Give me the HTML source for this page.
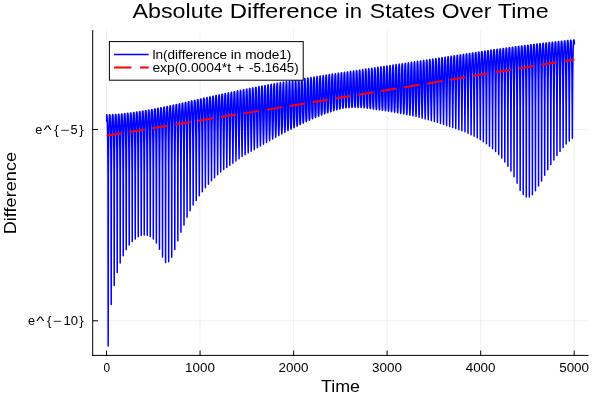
<!DOCTYPE html>
<html><head><meta charset="utf-8"><style>
html,body{margin:0;padding:0;background:#fff;}
svg{display:block;font-family:"Liberation Sans",sans-serif;will-change:transform;}
</style></head><body>
<svg width="600" height="400" viewBox="0 0 600 400">
<rect width="600" height="400" fill="#fff"/>
<!-- grid -->
<g stroke="#000" stroke-opacity="0.09" stroke-width="0.7" fill="none">
<path d="M106.53 30.1V355.4M200.06 30.1V355.4M293.6 30.1V355.4M387.1 30.1V355.4M480.7 30.1V355.4M574.2 30.1V355.4"/>
<path d="M92.7 129.5H588.6M92.7 320.8H588.6"/>
</g>
<!-- series -->
<polyline points="106.62,121.77 106.70,114.77 106.89,114.77 107.07,116.47 107.26,120.52 107.45,126.76 107.64,136.05 107.82,150.40 108.01,176.34 108.20,346.05 108.39,176.34 108.58,150.40 108.76,136.04 108.95,126.75 109.14,120.51 109.33,116.44 109.51,114.74 109.70,114.73 109.89,114.73 110.08,116.42 110.26,120.48 110.45,126.71 110.64,136.00 110.83,150.37 111.02,176.32 111.20,304.40 111.39,176.31 111.58,150.35 111.77,135.97 111.95,126.66 112.14,120.41 112.33,116.34 112.52,114.63 112.71,114.62 112.89,114.61 113.08,116.30 113.27,120.36 113.46,126.60 113.64,135.89 113.83,150.25 114.02,176.19 114.21,285.51 114.39,176.17 114.58,150.21 114.77,135.83 114.96,126.52 115.15,120.25 115.33,116.18 115.52,114.46 115.71,114.45 115.90,114.44 116.08,116.13 116.27,120.18 116.46,126.42 116.65,135.71 116.84,150.08 117.02,175.98 117.21,272.42 117.40,175.95 117.59,150.02 117.77,135.64 117.96,126.32 118.15,120.05 118.34,115.97 118.52,114.25 118.71,114.23 118.90,114.22 119.09,115.91 119.28,119.96 119.46,126.20 119.65,135.49 119.84,149.84 120.03,175.70 120.21,263.06 120.40,175.66 120.59,149.78 120.78,135.39 120.97,126.06 121.15,119.79 121.34,115.71 121.53,113.98 121.72,113.97 121.90,113.95 122.09,115.64 122.28,119.69 122.47,125.92 122.65,135.21 122.84,149.56 123.03,175.35 123.22,255.83 123.41,175.31 123.59,149.48 123.78,135.09 123.97,125.77 124.16,119.49 124.34,115.40 124.53,113.68 124.72,113.66 124.91,113.64 125.10,115.32 125.28,119.37 125.47,125.60 125.66,134.89 125.85,149.22 126.03,174.95 126.22,249.81 126.41,174.90 126.60,149.13 126.78,134.76 126.97,125.43 127.16,119.15 127.35,115.06 127.54,113.33 127.72,113.31 127.91,113.28 128.10,114.97 128.29,119.01 128.47,125.24 128.66,134.52 128.85,148.85 129.04,174.51 129.22,244.99 129.41,174.45 129.60,148.75 129.79,134.38 129.98,125.05 130.16,118.77 130.35,114.67 130.54,112.94 130.73,112.92 130.91,112.89 131.10,114.57 131.29,118.62 131.48,124.85 131.67,134.12 131.85,148.43 132.04,174.03 132.23,241.47 132.42,173.97 132.60,148.32 132.79,133.96 132.98,124.63 133.17,118.35 133.35,114.25 133.54,112.52 133.73,112.49 133.92,112.47 134.11,114.14 134.29,118.19 134.48,124.41 134.67,133.68 134.86,147.99 135.04,173.54 135.23,238.96 135.42,173.48 135.61,147.88 135.80,133.52 135.98,124.20 136.17,117.92 136.36,113.82 136.55,112.09 136.73,112.06 136.92,112.03 137.11,113.71 137.30,117.75 137.48,123.98 137.67,133.25 137.86,147.55 138.05,173.05 138.24,236.76 138.42,172.99 138.61,147.43 138.80,133.08 138.99,123.75 139.17,117.47 139.36,113.37 139.55,111.64 139.74,111.61 139.93,111.58 140.11,113.26 140.30,117.30 140.49,123.52 140.68,132.79 140.86,147.08 141.05,172.56 141.24,235.45 141.43,172.50 141.61,146.96 141.80,132.61 141.99,123.29 142.18,117.00 142.37,112.90 142.55,111.17 142.74,111.14 142.93,111.11 143.12,112.78 143.30,116.82 143.49,123.04 143.68,132.31 143.87,146.60 144.06,172.08 144.24,235.05 144.43,172.02 144.62,146.47 144.81,132.12 144.99,122.79 145.18,116.50 145.37,112.40 145.56,110.67 145.74,110.63 145.93,110.60 146.12,112.27 146.31,116.31 146.50,122.53 146.68,131.80 146.87,146.09 147.06,171.59 147.25,235.35 147.43,171.53 147.62,145.96 147.81,131.60 148.00,122.27 148.19,115.98 148.37,111.88 148.56,110.14 148.75,110.11 148.94,110.07 149.12,111.75 149.31,115.78 149.50,122.00 149.69,131.27 149.87,145.56 150.06,171.10 150.25,236.55 150.44,171.04 150.63,145.43 150.83,131.06 151.02,121.73 151.21,115.44 151.40,111.33 151.59,109.59 151.78,109.55 151.98,109.52 152.17,111.19 152.36,115.22 152.55,121.44 152.74,130.71 152.93,145.01 153.13,170.61 153.32,239.10 153.51,170.55 153.70,144.87 153.89,130.49 154.09,121.15 154.28,114.86 154.47,110.75 154.66,109.01 154.85,108.97 155.04,108.94 155.24,110.61 155.43,114.64 155.62,120.86 155.81,130.12 156.00,144.44 156.19,170.12 156.39,243.04 156.58,170.05 156.77,144.29 156.96,129.90 157.15,120.56 157.35,114.27 157.54,110.16 157.73,108.41 157.92,108.38 158.11,108.34 158.30,110.01 158.50,114.04 158.69,120.25 158.88,129.52 159.07,143.85 159.26,169.61 159.45,249.23 159.65,169.54 159.84,143.69 160.03,129.29 160.22,119.95 160.41,113.65 160.61,109.54 160.80,107.80 160.99,107.76 161.18,107.72 161.37,109.39 161.56,113.42 161.76,119.63 161.95,128.90 162.14,143.23 162.33,169.06 162.52,257.09 162.71,168.99 162.91,143.07 163.10,128.66 163.29,119.32 163.48,113.02 163.67,108.92 163.87,107.17 164.06,107.13 164.25,107.09 164.44,108.76 164.63,112.78 164.82,119.00 165.02,128.26 165.21,142.60 165.40,168.46 165.59,262.56 165.78,168.38 165.97,142.44 166.17,128.02 166.36,118.68 166.55,112.38 166.74,108.27 166.93,106.53 167.12,106.49 167.32,106.45 167.51,108.11 167.70,112.14 167.89,118.35 168.08,127.62 168.28,141.95 168.47,167.81 168.66,261.76 168.85,167.73 169.04,141.79 169.23,127.37 169.43,118.02 169.62,111.73 169.81,107.62 170.00,105.88 170.19,105.83 170.38,105.79 170.58,107.46 170.77,111.48 170.96,117.70 171.15,126.96 171.34,141.29 171.54,167.14 171.73,257.16 171.92,167.05 172.11,141.13 172.30,126.71 172.49,117.36 172.69,111.07 172.88,106.96 173.07,105.21 173.26,105.17 173.45,105.13 173.64,106.79 173.84,110.82 174.03,117.03 174.22,126.30 174.41,140.62 174.60,166.42 174.80,249.48 174.99,166.33 175.18,140.45 175.37,126.04 175.56,116.70 175.75,110.40 175.95,106.29 176.14,104.54 176.33,104.50 176.52,104.46 176.71,106.12 176.90,110.15 177.10,116.36 177.29,125.62 177.48,139.94 177.67,165.65 177.86,240.84 178.06,165.55 178.25,139.76 178.44,125.37 178.63,116.02 178.82,109.72 179.01,105.61 179.21,103.86 179.40,103.82 179.59,103.77 179.78,105.44 179.97,109.46 180.16,115.68 180.36,124.94 180.55,139.23 180.74,164.82 180.93,232.24 181.12,164.71 181.32,139.05 181.51,124.68 181.70,115.33 181.89,109.04 182.08,104.92 182.27,103.18 182.47,103.13 182.66,103.09 182.85,104.75 183.04,108.78 183.23,114.99 183.42,124.24 183.62,138.51 183.81,163.94 184.00,224.95 184.19,163.82 184.38,138.33 184.57,123.98 184.76,114.64 184.96,108.35 185.15,104.23 185.34,102.49 185.53,102.44 185.72,102.40 185.91,104.06 186.10,108.09 186.29,114.29 186.48,123.53 186.67,137.77 186.87,162.94 187.06,217.13 187.25,162.81 187.44,137.58 187.63,123.27 187.82,113.94 188.01,107.65 188.20,103.54 188.39,101.80 188.58,101.75 188.78,101.71 188.97,103.37 189.16,107.39 189.35,113.59 189.54,122.82 189.73,137.00 189.92,161.89 190.11,210.64 190.30,161.76 190.50,136.81 190.69,122.55 190.88,113.24 191.07,106.95 191.26,102.85 191.45,101.10 191.64,101.06 191.83,101.02 192.02,102.67 192.21,106.69 192.41,112.89 192.60,122.10 192.79,136.22 192.98,160.79 193.17,205.00 193.36,160.66 193.55,136.03 193.74,121.82 193.93,112.53 194.12,106.25 194.32,102.15 194.51,100.41 194.70,100.36 194.89,100.32 195.08,101.97 195.27,105.99 195.46,112.18 195.65,121.37 195.84,135.44 196.04,159.72 196.23,200.51 196.42,159.58 196.61,135.24 196.80,121.10 196.99,111.83 197.18,105.55 197.37,101.45 197.56,99.71 197.75,99.67 197.95,99.62 198.14,101.28 198.33,105.29 198.52,111.47 198.71,120.64 198.90,134.63 199.09,158.55 199.28,195.83 199.47,158.39 199.66,134.44 199.86,120.37 200.05,111.12 200.24,104.86 200.43,100.75 200.62,99.02 200.81,98.97 201.00,98.93 201.19,100.58 201.38,104.61 201.58,110.81 201.77,120.00 201.96,133.94 202.15,157.44 202.34,191.73 202.53,157.31 202.72,133.80 202.91,119.82 203.10,110.55 203.29,104.22 203.49,100.08 203.68,98.33 203.87,98.28 204.06,98.25 204.25,99.92 204.44,104.01 204.63,110.32 204.82,119.60 205.01,133.46 205.20,156.45 205.40,187.86 205.59,156.33 205.78,133.38 205.97,119.50 206.16,110.14 206.35,103.66 206.54,99.44 206.73,97.65 206.92,97.59 207.11,97.57 207.31,99.28 207.50,103.47 207.69,109.98 207.88,119.40 208.07,133.18 208.26,155.52 208.45,184.19 208.64,155.41 208.83,133.13 209.03,119.36 209.22,109.85 209.41,103.16 209.60,98.82 209.79,96.98 209.98,96.90 210.17,96.90 210.36,98.67 210.55,102.99 210.74,109.75 210.94,119.35 211.13,133.03 211.32,154.64 211.51,180.74 211.70,154.54 211.89,133.00 212.08,119.36 212.27,109.65 212.46,102.71 212.65,98.21 212.85,96.32 213.04,96.21 213.23,96.24 213.42,98.06 213.61,102.54 213.80,109.57 213.99,119.37 214.18,132.92 214.37,153.80 214.57,177.68 214.76,153.69 214.95,132.91 215.14,119.41 215.33,109.51 215.52,102.27 215.71,97.62 215.90,95.67 216.09,95.53 216.28,95.59 216.48,97.48 216.67,102.12 216.86,109.47 217.05,119.50 217.24,132.91 217.43,152.95 217.62,174.66 217.81,152.84 218.00,132.89 218.19,119.54 218.39,109.41 218.58,101.86 218.77,97.04 218.96,95.02 219.15,94.85 219.34,94.94 219.53,96.89 219.72,101.70 219.91,109.36 220.11,119.61 220.30,132.85 220.49,152.11 220.68,172.01 220.87,152.01 221.06,132.85 221.25,119.66 221.44,109.32 221.63,101.45 221.82,96.46 222.02,94.37 222.21,94.18 222.40,94.29 222.59,96.32 222.78,101.31 222.97,109.29 223.16,119.77 223.35,132.85 223.54,151.26 223.73,169.43 223.93,151.16 224.12,132.80 224.31,119.77 224.50,109.20 224.69,101.03 224.88,95.88 225.07,93.73 225.26,93.51 225.45,93.65 225.65,95.74 225.84,100.86 226.03,109.10 226.22,119.74 226.41,132.67 226.60,150.44 226.79,167.39 226.98,150.34 227.17,132.62 227.36,119.73 227.56,109.00 227.75,100.58 227.94,95.30 228.13,93.09 228.32,92.85 228.51,93.01 228.70,95.15 228.89,100.42 229.08,108.91 229.27,119.73 229.47,132.50 229.66,149.61 229.85,165.35 230.04,149.50 230.23,132.46 230.42,119.73 230.61,108.82 230.80,100.15 230.99,94.72 231.19,92.46 231.38,92.19 231.57,92.38 231.76,94.58 231.95,99.98 232.14,108.74 232.33,119.74 232.52,132.35 232.71,148.76 232.90,163.31 233.10,148.65 233.29,132.33 233.48,119.79 233.67,108.70 233.86,99.74 234.05,94.16 234.24,91.84 234.43,91.54 234.62,91.77 234.81,94.03 235.01,99.61 235.20,108.71 235.39,119.95 235.58,132.34 235.77,147.82 235.96,160.88 236.15,147.70 236.34,132.33 236.53,120.03 236.72,108.71 236.92,99.39 237.11,93.63 237.30,91.23 237.49,90.89 237.68,91.16 237.87,93.49 238.06,99.26 238.25,108.69 238.44,120.14 238.64,132.28 238.83,146.86 239.02,158.64 239.21,146.74 239.40,132.26 239.59,120.19 239.78,108.66 239.97,99.02 240.16,93.09 240.35,90.63 240.55,90.26 240.74,90.55 240.93,92.95 241.12,98.87 241.31,108.61 241.50,120.24 241.69,132.15 241.88,145.91 242.07,156.61 242.26,145.80 242.46,132.10 242.65,120.25 242.84,108.55 243.03,98.62 243.22,92.54 243.41,90.03 243.60,89.63 243.79,89.95 243.98,92.40 244.18,98.46 244.37,108.46 244.56,120.24 244.75,131.93 244.94,144.98 245.13,154.76 245.32,144.86 245.51,131.88 245.70,120.26 245.89,108.40 246.09,98.22 246.28,92.00 246.47,89.43 246.66,89.00 246.85,89.36 247.04,91.87 247.23,98.07 247.42,108.36 247.61,120.31 247.80,131.75 248.00,143.97 248.19,152.75 248.38,143.85 248.57,131.68 248.76,120.29 248.95,108.27 249.14,97.81 249.33,91.46 249.52,88.84 249.72,88.38 249.91,88.77 250.10,91.33 250.29,97.65 250.48,108.15 250.67,120.22 250.86,131.44 251.05,143.04 251.24,151.14 251.43,142.93 251.63,131.34 251.82,120.14 252.01,108.01 252.20,97.36 252.39,90.91 252.58,88.25 252.77,87.77 252.96,88.18 253.15,90.77 253.34,97.18 253.54,107.86 253.73,120.01 253.92,131.05 254.11,142.16 254.30,149.67 254.49,142.03 254.68,130.98 254.87,119.98 255.07,107.75 255.26,96.92 255.45,90.37 255.64,87.67 255.83,87.17 256.02,87.60 256.21,90.24 256.40,96.76 256.60,107.67 256.79,119.95 256.98,130.75 257.17,141.11 257.36,147.83 257.55,140.98 257.74,130.67 257.93,119.93 258.13,107.59 258.32,96.51 258.51,89.85 258.70,87.10 258.89,86.57 259.08,87.03 259.27,89.72 259.47,96.36 259.66,107.50 259.85,119.89 260.04,130.42 260.23,140.03 260.42,146.00 260.61,139.89 260.80,130.32 261.00,119.86 261.19,107.41 261.38,96.10 261.57,89.33 261.76,86.54 261.95,85.98 262.14,86.47 262.33,89.20 262.53,95.95 262.72,107.31 262.91,119.80 263.10,130.04 263.29,138.91 263.48,144.16 263.67,138.77 263.87,129.93 264.06,119.75 264.25,107.20 264.44,95.69 264.63,88.81 264.82,85.99 265.01,85.40 265.20,85.92 265.40,88.68 265.59,95.53 265.78,107.09 265.97,119.65 266.16,129.60 266.35,137.77 266.54,142.39 266.73,137.63 266.93,129.48 267.12,119.58 267.31,106.95 267.50,95.25 267.69,88.30 267.88,85.44 268.07,84.82 268.27,85.37 268.46,88.17 268.65,95.09 268.84,106.81 269.03,119.44 269.22,129.10 269.41,136.63 269.60,140.67 269.80,136.49 269.99,128.97 270.18,119.35 270.37,106.67 270.56,94.81 270.75,87.78 270.94,84.89 271.13,84.25 271.33,84.82 271.52,87.65 271.71,94.64 271.90,106.51 272.09,119.18 272.28,128.56 272.47,135.45 272.67,138.96 272.86,135.30 273.05,128.41 273.24,119.06 273.43,106.35 273.62,94.35 273.81,87.26 274.00,84.35 274.20,83.69 274.39,84.28 274.58,87.13 274.77,94.18 274.96,106.18 275.15,118.86 275.34,127.95 275.53,134.24 275.73,137.26 275.92,134.09 276.11,127.79 276.30,118.72 276.49,105.99 276.68,93.88 276.87,86.74 277.07,83.81 277.26,83.14 277.45,83.75 277.64,86.61 277.83,93.70 278.02,105.80 278.21,118.47 278.40,127.28 278.60,133.01 278.79,135.61 278.98,132.86 279.17,127.10 279.36,118.31 279.55,105.59 279.74,93.39 279.93,86.22 280.13,83.28 280.32,82.59 280.51,83.22 280.70,86.09 280.89,93.20 281.08,105.37 281.27,118.02 281.47,126.54 281.66,131.75 281.85,133.95 282.04,131.59 282.23,126.35 282.42,117.83 282.61,105.14 282.80,92.88 283.00,85.70 283.19,82.76 283.38,82.04 283.57,82.69 283.76,85.57 283.95,92.69 284.14,104.90 284.33,117.49 284.53,125.74 284.72,130.45 284.91,132.30 285.10,130.29 285.29,125.53 285.48,117.27 285.67,104.64 285.87,92.35 286.06,85.18 286.25,82.23 286.44,81.51 286.63,82.17 286.82,85.05 287.01,92.15 287.20,104.37 287.40,116.89 287.59,124.89 287.78,129.19 287.97,130.77 288.16,129.03 288.35,124.66 288.54,116.65 288.73,104.09 288.93,91.81 289.12,84.65 289.31,81.71 289.50,80.98 289.69,81.65 289.88,84.52 290.07,91.60 290.27,103.80 290.46,116.23 290.65,123.98 290.84,127.90 291.03,129.23 291.22,127.74 291.41,123.74 291.60,115.96 291.80,103.50 291.99,91.24 292.18,84.12 292.37,81.19 292.56,80.45 292.75,81.13 292.94,83.98 293.13,91.02 293.33,103.18 293.52,115.49 293.71,122.99 293.90,126.59 294.09,127.70 294.28,126.42 294.47,122.74 294.67,115.19 294.86,102.84 295.05,90.65 295.24,83.58 295.43,80.68 295.62,79.93 295.81,80.61 296.00,83.45 296.20,90.43 296.39,102.50 296.58,114.66 296.77,121.94 296.96,125.23 297.15,126.17 297.34,125.06 297.53,121.66 297.73,114.33 297.92,102.13 298.11,90.04 298.30,83.04 298.49,80.17 298.68,79.42 298.87,80.10 299.07,82.90 299.26,89.81 299.45,101.75 299.64,113.75 299.83,120.80 300.02,123.84 300.21,124.64 300.40,123.67 300.60,120.51 300.79,113.38 300.98,101.36 301.17,89.40 301.36,82.49 301.55,79.65 301.74,78.91 301.93,79.59 302.13,82.35 302.32,89.16 302.51,100.95 302.70,112.74 302.89,119.58 303.08,122.42 303.27,123.11 303.47,122.24 303.66,119.27 303.85,112.34 304.04,100.51 304.23,88.74 304.42,81.94 304.61,79.14 304.80,78.41 305.00,79.08 305.19,81.80 305.38,88.48 305.57,100.07 305.76,111.65 305.95,118.31 306.14,121.00 306.33,121.64 306.53,120.83 306.72,118.00 306.91,111.24 307.10,99.63 307.29,88.06 307.48,81.38 307.67,78.63 307.87,77.91 308.06,78.57 308.25,81.24 308.44,87.80 308.63,99.18 308.82,110.53 309.01,117.03 309.20,119.63 309.40,120.23 309.59,119.46 309.78,116.70 309.97,110.09 310.16,98.71 310.35,87.36 310.54,80.81 310.73,78.13 310.93,77.42 311.12,78.06 311.31,80.67 311.50,87.10 311.69,98.23 311.88,109.34 312.07,115.70 312.27,118.24 312.46,118.82 312.65,118.06 312.84,115.36 313.03,108.89 313.22,97.76 313.41,86.66 313.60,80.25 313.80,77.62 313.99,76.93 314.18,77.56 314.37,80.11 314.56,86.39 314.75,97.28 314.94,108.15 315.13,114.37 315.33,116.86 315.52,117.44 315.71,116.71 315.90,114.08 316.09,107.75 316.28,96.85 316.47,85.97 316.67,79.70 316.86,77.12 317.05,76.44 317.24,77.06 317.43,79.56 317.62,85.73 317.81,96.42 318.00,107.09 318.20,113.20 318.39,115.65 318.58,116.22 318.77,115.50 318.96,112.91 319.15,106.70 319.34,96.00 319.53,85.32 319.73,79.16 319.92,76.63 320.11,75.96 320.30,76.57 320.49,79.02 320.68,85.07 320.87,95.57 321.07,106.04 321.26,112.04 321.45,114.44 321.64,114.99 321.83,114.29 322.02,111.75 322.21,105.65 322.40,95.14 322.60,84.67 322.79,78.62 322.98,76.14 323.17,75.48 323.36,76.07 323.55,78.49 323.74,84.42 323.93,94.72 324.13,104.99 324.32,110.87 324.51,113.23 324.70,113.77 324.89,113.07 325.08,110.59 325.27,104.61 325.46,94.31 325.65,84.03 325.84,78.09 326.03,75.65 326.22,75.01 326.41,75.59 326.60,77.96 326.79,83.80 326.98,93.93 327.17,104.05 327.36,109.84 327.55,112.17 327.74,112.72 327.93,112.04 328.12,109.60 328.31,103.71 328.50,93.56 328.69,83.43 328.88,77.58 329.07,75.17 329.26,74.54 329.45,75.11 329.64,77.45 329.83,83.20 330.02,93.18 330.21,103.14 330.40,108.85 330.59,111.15 330.78,111.69 330.97,111.02 331.16,108.61 331.35,102.81 331.54,92.81 331.73,82.83 331.92,77.07 332.11,74.70 332.30,74.07 332.49,74.64 332.68,76.94 332.87,82.60 333.06,92.43 333.25,102.24 333.44,107.87 333.63,110.12 333.82,110.65 334.01,110.00 334.20,107.62 334.39,101.90 334.58,92.06 334.77,82.23 334.96,76.56 335.15,74.22 335.34,73.61 335.53,74.17 335.72,76.43 335.91,82.03 336.10,91.74 336.29,101.44 336.48,107.01 336.67,109.26 336.86,109.80 337.05,109.17 337.24,106.84 337.43,101.19 337.62,91.44 337.81,81.70 338.00,76.07 338.19,73.76 338.38,73.14 338.57,73.70 338.76,75.95 338.95,81.50 339.14,91.14 339.33,100.77 339.52,106.31 339.71,108.54 339.90,109.08 340.09,108.45 340.28,106.13 340.47,100.52 340.66,90.85 340.85,81.18 341.04,75.59 341.23,73.29 341.42,72.68 341.61,73.24 341.80,75.47 341.99,80.98 342.17,90.55 342.36,100.11 342.55,105.60 342.74,107.81 342.93,108.35 343.12,107.72 343.31,105.42 343.50,99.86 343.69,90.25 343.88,80.66 344.07,75.11 344.26,72.83 344.45,72.23 344.64,72.77 344.83,74.99 345.02,80.46 345.21,89.97 345.40,99.50 345.59,104.99 345.78,107.23 345.97,107.79 346.16,107.20 346.35,104.94 346.54,99.41 346.73,89.82 346.92,80.22 347.11,74.66 347.30,72.38 347.49,71.77 347.68,72.32 347.87,74.56 348.06,80.07 348.25,89.66 348.44,99.25 348.63,104.78 348.82,107.04 349.01,107.61 349.20,107.02 349.39,104.73 349.58,99.16 349.77,89.50 349.96,79.82 350.15,74.23 350.34,71.93 350.53,71.32 350.72,71.87 350.91,74.12 351.10,79.68 351.29,89.34 351.48,99.01 351.67,104.58 351.86,106.85 352.05,107.43 352.24,106.83 352.43,104.53 352.62,98.91 352.81,89.18 353.00,79.43 353.19,73.80 353.38,71.48 353.57,70.86 353.76,71.42 353.95,73.69 354.14,79.29 354.33,89.02 354.52,98.76 354.71,104.38 354.90,106.67 355.09,107.26 355.28,106.68 355.47,104.38 355.66,98.73 355.85,88.91 356.04,79.07 356.23,73.38 356.42,71.03 356.61,70.41 356.80,70.98 356.99,73.28 357.18,78.96 357.37,88.84 357.56,98.75 357.75,104.48 357.94,106.83 358.13,107.44 358.32,106.85 358.51,104.51 358.70,98.76 358.89,88.78 359.08,78.77 359.27,72.98 359.46,70.59 359.65,69.96 359.84,70.53 360.03,72.88 360.22,78.66 360.41,88.71 360.60,98.79 360.79,104.61 360.98,107.00 361.17,107.62 361.36,107.02 361.55,104.64 361.74,98.80 361.93,88.64 362.12,78.47 362.31,72.58 362.50,70.15 362.69,69.51 362.88,70.09 363.07,72.48 363.26,78.35 363.45,88.58 363.64,98.82 363.83,104.74 364.02,107.17 364.21,107.80 364.40,107.19 364.59,104.78 364.78,98.83 364.97,88.51 365.16,78.17 365.35,72.18 365.54,69.71 365.73,69.06 365.92,69.65 366.11,72.08 366.30,78.07 366.49,88.50 366.68,98.96 366.87,105.01 367.06,107.51 367.25,108.16 367.44,107.56 367.63,105.10 367.82,99.04 368.01,88.49 368.20,77.92 368.39,71.80 368.58,69.27 368.77,68.60 368.96,69.22 369.15,71.70 369.34,77.83 369.53,88.49 369.72,99.18 369.91,105.37 370.10,107.92 370.29,108.59 370.48,107.97 370.67,105.46 370.86,99.26 371.05,88.48 371.24,77.67 371.43,71.41 371.62,68.84 371.81,68.15 372.00,68.78 372.19,71.32 372.38,77.58 372.57,88.48 372.76,99.40 372.95,105.72 373.14,108.33 373.33,109.02 373.52,108.38 373.71,105.81 373.90,99.48 374.09,88.47 374.28,77.43 374.47,71.03 374.66,68.40 374.85,67.70 375.04,68.35 375.23,70.94 375.42,77.33 375.61,88.46 375.80,99.62 375.99,106.08 376.18,108.74 376.37,109.44 376.56,108.79 376.75,106.17 376.94,99.70 377.12,88.46 377.31,77.18 377.50,70.65 377.69,67.96 377.88,67.25 378.07,67.91 378.26,70.56 378.45,77.09 378.64,88.45 378.83,99.84 379.02,106.43 379.21,109.15 379.40,109.87 379.59,109.20 379.78,106.51 379.97,99.91 380.16,88.43 380.35,76.92 380.54,70.27 380.73,67.53 380.92,66.80 381.11,67.47 381.30,70.17 381.49,76.82 381.68,88.39 381.87,100.00 382.06,106.73 382.25,109.54 382.44,110.29 382.63,109.58 382.82,106.80 383.01,100.04 383.20,88.35 383.39,76.64 383.58,69.87 383.77,67.08 383.96,66.35 384.15,67.03 384.34,69.77 384.53,76.53 384.72,88.28 384.91,100.08 385.10,106.97 385.29,109.91 385.48,110.73 385.67,109.96 385.86,107.03 386.05,100.10 386.24,88.21 386.43,76.34 386.62,69.47 386.81,66.64 387.00,65.90 387.19,66.58 387.38,69.36 387.57,76.22 387.76,88.13 387.95,100.11 388.14,107.18 388.33,110.29 388.52,111.21 388.71,110.34 388.90,107.22 389.09,100.10 389.28,88.03 389.47,76.02 389.66,69.05 389.85,66.19 390.04,65.45 390.23,66.13 390.42,68.95 390.61,75.89 390.80,87.92 390.99,100.06 391.18,107.32 391.37,110.65 391.56,111.70 391.75,110.70 391.94,107.35 392.13,100.02 392.32,87.79 392.51,75.67 392.70,68.63 392.89,65.73 393.08,64.99 393.27,65.68 393.46,68.52 393.65,75.53 393.84,87.65 394.03,99.92 394.22,107.39 394.41,110.98 394.60,112.19 394.79,111.02 394.98,107.40 395.17,99.85 395.36,87.49 395.56,75.29 395.75,68.19 395.94,65.28 396.13,64.54 396.32,65.22 396.51,68.08 396.70,75.14 396.89,87.33 397.09,99.73 397.28,107.43 397.47,111.36 397.66,112.78 397.85,111.40 398.04,107.43 398.23,99.63 398.42,87.15 398.61,74.89 398.81,67.74 399.00,64.81 399.19,64.08 399.38,64.75 399.57,67.63 399.76,74.73 399.95,86.95 400.14,99.45 400.34,107.40 400.53,111.71 400.72,113.39 400.91,111.75 401.10,107.38 401.29,99.32 401.48,86.74 401.67,74.45 401.86,67.28 402.06,64.34 402.25,63.62 402.44,64.28 402.63,67.17 402.82,74.28 403.01,86.51 403.20,99.08 403.39,107.29 403.58,112.03 403.78,114.01 403.97,112.07 404.16,107.25 404.35,98.92 404.54,86.26 404.73,73.99 404.92,66.82 405.11,63.87 405.31,63.16 405.50,63.81 405.69,66.70 405.88,73.81 406.07,86.01 406.26,98.63 406.45,107.10 406.64,112.30 406.83,114.62 407.03,112.34 407.22,107.05 407.41,98.45 407.60,85.74 407.79,73.51 407.98,66.34 408.17,63.40 408.36,62.70 408.56,63.34 408.75,66.21 408.94,73.32 409.13,85.45 409.32,98.11 409.51,106.84 409.70,112.54 409.89,115.23 410.08,112.57 410.28,106.77 410.47,97.89 410.66,85.16 410.85,73.00 411.04,65.85 411.23,62.92 411.42,62.24 411.61,62.86 411.81,65.72 412.00,72.80 412.19,84.85 412.38,97.51 412.57,106.51 412.76,112.74 412.95,115.84 413.14,112.76 413.33,106.42 413.53,97.27 413.72,84.53 413.91,72.46 414.10,65.35 414.29,62.44 414.48,61.78 414.67,62.38 414.86,65.23 415.06,72.26 415.25,84.20 415.44,96.84 415.63,106.12 415.82,112.93 416.01,116.51 416.20,112.96 416.39,106.01 416.58,96.56 416.78,83.84 416.97,71.90 417.16,64.84 417.35,61.95 417.54,61.32 417.73,61.89 417.92,64.71 418.11,71.68 418.30,83.46 418.50,96.07 418.69,105.65 418.88,113.14 419.07,117.31 419.26,113.17 419.45,105.52 419.64,95.76 419.83,83.08 420.03,71.30 420.22,64.32 420.41,61.46 420.60,60.86 420.79,61.40 420.98,64.19 421.17,71.07 421.36,82.68 421.55,95.23 421.75,105.11 421.94,113.31 422.13,118.10 422.32,113.33 422.51,104.96 422.70,94.90 422.89,82.27 423.08,70.69 423.28,63.80 423.47,60.97 423.66,60.39 423.85,60.91 424.04,63.66 424.23,70.45 424.42,81.86 424.61,94.32 424.80,104.50 425.00,113.42 425.19,118.90 425.38,113.44 425.57,104.33 425.76,93.97 425.95,81.43 426.14,70.05 426.33,63.26 426.53,60.48 426.72,59.93 426.91,60.42 427.10,63.13 427.29,69.81 427.48,80.98 427.67,93.35 427.86,103.82 428.05,113.52 428.25,119.76 428.44,113.53 428.63,103.64 428.82,92.96 429.01,80.53 429.20,69.39 429.39,62.72 429.58,59.98 429.77,59.46 429.97,59.92 430.16,62.58 430.35,69.14 430.54,80.08 430.73,92.32 430.92,103.07 431.11,113.56 431.30,120.62 431.50,113.57 431.69,102.88 431.88,91.92 432.07,79.61 432.26,68.72 432.45,62.17 432.64,59.49 432.83,59.00 433.02,59.42 433.22,62.04 433.41,68.47 433.60,79.14 433.79,91.25 433.98,102.28 434.17,113.56 434.36,121.47 434.55,113.56 434.75,102.07 434.94,90.84 435.13,78.67 435.32,68.04 435.51,61.62 435.70,58.99 435.89,58.53 436.08,58.93 436.27,61.48 436.47,67.77 436.66,78.17 436.85,90.11 437.04,101.42 437.23,113.54 437.42,122.42 437.61,113.53 437.80,101.19 438.00,89.67 438.19,77.66 438.38,67.33 438.57,61.06 438.76,58.49 438.95,58.07 439.14,58.43 439.33,60.92 439.52,67.06 439.72,77.15 439.91,88.93 440.10,100.50 440.29,113.48 440.48,123.40 440.67,113.47 440.86,100.27 441.05,88.48 441.25,76.65 441.44,66.61 441.63,60.50 441.82,57.99 442.01,57.60 442.20,57.93 442.39,60.36 442.58,66.34 442.77,76.14 442.97,87.73 443.16,99.55 443.35,113.37 443.54,124.38 443.73,113.35 443.92,99.31 444.11,87.28 444.30,75.63 444.49,65.89 444.69,59.94 444.88,57.49 445.07,57.13 445.26,57.43 445.45,59.80 445.64,65.62 445.83,75.11 446.02,86.51 446.22,98.57 446.41,113.23 446.60,125.39 446.79,113.21 446.98,98.32 447.17,86.05 447.36,74.59 447.55,65.17 447.74,59.38 447.94,56.99 448.13,56.67 448.32,56.93 448.51,59.24 448.70,64.90 448.89,74.07 449.08,85.28 449.27,97.56 449.47,113.05 449.66,126.43 449.85,113.02 450.04,97.31 450.23,84.82 450.42,73.56 450.61,64.44 450.80,58.82 450.99,56.49 451.19,56.20 451.38,56.43 451.57,58.68 451.76,64.17 451.95,73.05 452.14,84.06 452.33,96.55 452.52,112.83 452.72,127.47 452.91,112.80 453.10,96.29 453.29,83.60 453.48,72.54 453.67,63.73 453.86,58.26 454.05,56.00 454.24,55.74 454.44,55.94 454.63,58.12 454.82,63.46 455.01,72.04 455.20,82.85 455.39,95.53 455.58,112.58 455.77,128.53 455.97,112.55 456.16,95.27 456.35,82.40 456.54,71.53 456.73,63.01 456.92,57.70 457.11,55.50 457.30,55.27 457.49,55.44 457.69,57.56 457.88,62.75 458.07,71.03 458.26,81.65 458.45,94.50 458.64,112.31 458.83,129.63 459.02,112.28 459.21,94.25 459.41,81.20 459.60,70.54 459.79,62.31 459.98,57.15 460.17,55.01 460.36,54.81 460.55,54.95 460.74,57.01 460.94,62.04 461.13,70.05 461.32,80.48 461.51,93.49 461.70,112.02 461.89,130.73 462.08,111.98 462.27,93.24 462.46,80.05 462.66,69.57 462.85,61.61 463.04,56.60 463.23,54.52 463.42,54.34 463.61,54.46 463.80,56.47 463.99,61.36 464.19,69.10 464.38,79.35 464.57,92.50 464.76,111.70 464.95,131.83 465.14,111.66 465.33,92.24 465.53,78.91 465.72,68.61 465.91,60.92 466.10,56.06 466.29,54.04 466.48,53.88 466.68,53.97 466.87,55.92 467.06,60.66 467.25,68.12 467.44,78.16 467.63,91.45 467.83,111.39 468.02,133.26 468.21,111.35 468.40,91.19 468.59,77.72 468.78,67.63 468.98,60.22 469.17,55.51 469.36,53.55 469.55,53.42 469.74,53.49 469.93,55.37 470.13,59.97 470.32,67.16 470.51,77.02 470.70,90.44 470.89,111.06 471.08,134.70 471.28,111.02 471.47,90.19 471.66,76.59 471.85,66.69 472.04,59.54 472.24,54.97 472.43,53.06 472.62,52.96 472.81,53.00 473.00,54.84 473.19,59.29 473.39,66.22 473.58,75.90 473.77,89.44 473.96,110.75 474.15,136.32 474.34,110.70 474.54,89.21 474.73,75.52 474.92,65.79 475.11,58.88 475.30,54.44 475.49,52.58 475.69,52.50 475.88,52.52 476.07,54.31 476.26,58.65 476.45,65.38 476.64,74.91 476.84,88.56 477.03,110.42 477.22,137.77 477.41,110.38 477.60,88.34 477.80,74.55 477.99,64.97 478.18,58.25 478.37,53.92 478.56,52.11 478.75,52.04 478.95,52.05 479.14,53.79 479.33,58.02 479.52,64.54 479.71,73.93 479.90,87.67 480.10,110.13 480.29,139.77 480.48,110.10 480.67,87.46 480.86,73.58 481.05,64.15 481.25,57.64 481.44,53.41 481.63,51.64 481.82,51.59 482.01,51.58 482.20,53.29 482.40,57.42 482.59,63.78 482.78,73.05 482.97,86.88 483.16,109.88 483.35,141.82 483.55,109.85 483.74,86.71 483.93,72.76 484.12,63.44 484.31,57.07 484.51,52.92 484.70,51.17 484.89,51.14 485.08,51.12 485.27,52.80 485.46,56.87 485.66,63.12 485.85,72.32 486.04,86.23 486.23,109.66 486.42,143.87 486.61,109.64 486.81,86.09 487.00,72.08 487.19,62.83 487.38,56.54 487.57,52.44 487.76,50.72 487.96,50.69 488.15,50.66 488.34,52.33 488.53,56.36 488.72,62.56 488.91,71.73 489.11,85.71 489.30,109.53 489.49,146.32 489.68,109.52 489.87,85.61 490.07,71.56 490.26,62.32 490.45,56.08 490.64,51.99 490.83,50.27 491.02,50.24 491.22,50.21 491.41,51.88 491.60,55.91 491.79,62.11 491.98,71.30 492.17,85.34 492.37,109.46 492.56,148.79 492.75,109.45 492.94,85.25 493.13,71.14 493.32,61.89 493.52,55.64 493.71,51.55 493.90,49.83 494.09,49.80 494.28,49.77 494.47,51.44 494.67,55.47 494.86,61.68 495.05,70.89 495.24,84.98 495.43,109.37 495.62,151.48 495.82,109.36 496.01,84.89 496.20,70.73 496.39,61.46 496.58,55.20 496.78,51.11 496.97,49.38 497.16,49.36 497.35,49.33 497.54,51.00 497.73,55.04 497.93,61.25 498.12,70.47 498.31,84.62 498.50,109.26 498.69,154.58 498.88,109.25 499.08,84.53 499.27,70.32 499.46,61.03 499.65,54.77 499.84,50.68 500.03,48.95 500.23,48.92 500.42,48.89 500.61,50.57 500.80,54.61 500.99,60.82 501.18,70.06 501.38,84.25 501.57,109.14 501.76,158.08 501.95,109.12 502.14,84.16 502.34,69.91 502.53,60.61 502.72,54.34 502.91,50.24 503.10,48.51 503.29,48.49 503.49,48.46 503.68,50.14 503.87,54.18 504.06,60.40 504.25,69.65 504.44,83.88 504.64,108.98 504.83,161.88 505.02,108.96 505.21,83.78 505.40,69.49 505.59,60.19 505.79,53.91 505.98,49.82 506.17,48.09 506.36,48.06 506.55,48.03 506.74,49.71 506.94,53.75 507.13,59.97 507.32,69.24 507.51,83.50 507.70,108.80 507.89,166.36 508.09,108.78 508.28,83.40 508.47,69.08 508.66,59.76 508.85,53.49 509.05,49.39 509.24,47.66 509.43,47.63 509.62,47.61 509.81,49.29 510.00,53.33 510.20,59.56 510.39,68.82 510.58,83.11 510.77,108.57 510.96,170.93 511.15,108.55 511.35,83.02 511.54,68.67 511.73,59.35 511.92,53.07 512.11,48.97 512.30,47.24 512.50,47.21 512.69,47.19 512.88,48.87 513.07,52.91 513.26,59.14 513.45,68.41 513.65,82.73 513.84,108.33 514.03,176.75 514.22,108.30 514.41,82.63 514.61,68.26 514.80,58.93 514.99,52.65 515.18,48.55 515.37,46.82 515.56,46.80 515.76,46.77 515.95,48.45 516.14,52.50 516.33,58.72 516.52,68.00 516.71,82.33 516.91,108.05 517.10,183.19 517.29,108.02 517.48,82.23 517.67,67.85 517.86,58.52 518.06,52.24 518.25,48.14 518.44,46.41 518.63,46.39 518.82,46.36 519.01,48.04 519.21,52.08 519.40,58.31 519.59,67.59 519.78,81.94 519.97,107.74 520.16,190.57 520.36,107.70 520.55,81.84 520.74,67.44 520.93,58.11 521.12,51.83 521.32,47.74 521.51,46.01 521.70,45.98 521.89,45.96 522.08,47.64 522.27,51.68 522.47,57.91 522.66,67.19 522.85,81.53 523.04,107.38 523.23,194.58 523.42,107.33 523.62,81.43 523.81,67.04 524.00,57.71 524.19,51.43 524.38,47.33 524.57,45.60 524.77,45.58 524.96,45.55 525.15,47.23 525.34,51.28 525.53,57.51 525.72,66.79 525.92,81.14 526.11,106.99 526.30,196.95 526.49,106.95 526.68,81.04 526.87,66.64 527.06,57.31 527.25,51.03 527.44,46.94 527.63,45.21 527.82,45.18 528.02,45.16 528.21,46.84 528.40,50.88 528.59,57.11 528.78,66.40 528.97,80.74 529.16,106.61 529.35,196.92 529.54,106.56 529.73,80.65 529.92,66.25 530.11,56.92 530.30,50.64 530.49,46.55 530.68,44.82 530.88,44.80 531.07,44.77 531.26,46.45 531.45,50.50 531.64,56.73 531.83,66.01 532.02,80.36 532.21,106.21 532.40,194.82 532.59,106.16 532.78,80.26 532.98,65.87 533.17,56.54 533.36,50.26 533.55,46.17 533.74,44.44 533.94,44.41 534.13,44.39 534.32,46.07 534.51,50.11 534.70,56.34 534.90,65.63 535.09,79.97 535.28,105.80 535.47,190.69 535.66,105.75 535.86,79.88 536.05,65.49 536.24,56.16 536.43,49.88 536.62,45.79 536.82,44.06 537.01,44.03 537.20,44.01 537.39,45.69 537.58,49.74 537.77,55.97 537.97,65.25 538.16,79.59 538.35,105.39 538.54,186.04 538.73,105.33 538.93,79.50 539.12,65.11 539.31,55.78 539.50,49.50 539.69,45.41 539.89,43.68 540.08,43.66 540.27,43.64 540.46,45.32 540.65,49.36 540.85,55.60 541.04,64.88 541.23,79.21 541.42,104.96 541.61,181.09 541.81,104.90 542.00,79.12 542.19,64.74 542.38,55.41 542.57,49.13 542.77,45.04 542.96,43.31 543.15,43.29 543.34,43.27 543.53,44.95 543.73,49.00 543.92,55.23 544.11,64.51 544.30,78.84 544.49,104.50 544.69,175.14 544.88,104.44 545.07,78.74 545.26,64.37 545.45,55.05 545.65,48.77 545.84,44.68 546.03,42.95 546.22,42.93 546.41,42.91 546.61,44.59 546.80,48.64 546.99,54.87 547.18,64.15 547.37,78.46 547.57,104.02 547.76,169.65 547.95,103.96 548.14,78.36 548.33,64.01 548.52,54.69 548.72,48.41 548.91,44.32 549.10,42.59 549.29,42.57 549.48,42.55 549.68,44.23 549.87,48.28 550.06,54.51 550.25,63.78 550.44,78.08 550.64,103.52 550.83,164.59 551.02,103.46 551.21,77.98 551.40,63.65 551.60,54.33 551.79,48.06 551.98,43.97 552.17,42.24 552.36,42.22 552.56,42.20 552.75,43.88 552.94,47.93 553.13,54.16 553.32,63.43 553.52,77.70 553.71,103.00 553.90,159.92 554.09,102.93 554.28,77.60 554.48,63.29 554.67,53.99 554.86,47.71 555.05,43.62 555.24,41.90 555.44,41.88 555.63,41.86 555.82,43.54 556.01,47.58 556.20,53.81 556.40,63.07 556.59,77.31 556.78,102.45 556.97,155.49 557.16,102.38 557.36,77.22 557.55,62.94 557.74,53.64 557.93,47.37 558.12,43.28 558.32,41.56 558.51,41.54 558.70,41.52 558.89,43.20 559.08,47.24 559.27,53.47 559.47,62.72 559.66,76.93 559.85,101.88 560.04,151.39 560.23,101.81 560.43,76.83 560.62,62.59 560.81,53.30 561.00,47.03 561.19,42.95 561.39,41.23 561.58,41.21 561.77,41.19 561.96,42.86 562.15,46.91 562.35,53.13 562.54,62.37 562.73,76.54 562.92,101.28 563.11,147.46 563.31,101.21 563.50,76.45 563.69,62.24 563.88,52.96 564.07,46.70 564.27,42.62 564.46,40.90 564.65,40.88 564.84,40.86 565.03,42.54 565.23,46.58 565.42,52.80 565.61,62.02 565.80,76.16 565.99,100.68 566.19,144.06 566.38,100.61 566.57,76.06 566.76,61.90 566.95,52.63 567.15,46.38 567.34,42.29 567.53,40.58 567.72,40.56 567.91,40.54 568.11,42.21 568.30,46.26 568.49,52.47 568.68,61.68 568.87,75.77 569.07,100.08 569.26,141.02 569.45,100.01 569.64,75.68 569.83,61.56 570.02,52.30 570.22,46.06 570.41,41.98 570.60,40.26 570.79,40.24 570.98,40.22 571.18,41.90 571.37,45.94 571.56,52.14 571.75,61.34 571.94,75.40 572.14,99.49 572.33,138.31 572.52,99.42 572.71,75.30 572.90,61.22 573.10,51.98 573.29,45.74 573.48,41.66 573.67,39.95 573.86,39.93 574.06,39.91 574.25,41.58 574.42,44.60" fill="none" stroke="#0000ff" stroke-width="1.5" stroke-linejoin="round" stroke-linecap="butt"/>
<line x1="106.53" y1="135.8" x2="574.4" y2="59.4" stroke="#ff0000" stroke-width="2" stroke-dasharray="15.5 7.7"/>
<!-- axes -->
<g stroke="#000" stroke-width="1" fill="none">
<path d="M92.7 30.1V355.9M92.2 355.4H588.6"/>
<path d="M106.53 355.4v-4.8M200.06 355.4v-4.8M293.6 355.4v-4.8M387.1 355.4v-4.8M480.7 355.4v-4.8M574.2 355.4v-4.8"/>
<path d="M92.7 129.5h5.3M92.7 320.8h5.3"/>
</g>
<!-- tick labels -->
<g font-size="11.9" fill="#000" text-anchor="middle">
<text x="106.8" y="372.1">0</text>
<text x="200.0" y="372.1" textLength="29.8" lengthAdjust="spacingAndGlyphs">1000</text>
<text x="293.5" y="372.1" textLength="29.8" lengthAdjust="spacingAndGlyphs">2000</text>
<text x="387.0" y="372.1" textLength="29.8" lengthAdjust="spacingAndGlyphs">3000</text>
<text x="480.6" y="372.1" textLength="29.8" lengthAdjust="spacingAndGlyphs">4000</text>
<text x="574.1" y="372.1" textLength="29.8" lengthAdjust="spacingAndGlyphs">5000</text>
</g>
<g font-size="11.9" fill="#000" text-anchor="middle">
<text x="38.93" y="133.8" textLength="7.1" lengthAdjust="spacingAndGlyphs">e</text>
<text x="47.73" y="133.8" textLength="8.2" lengthAdjust="spacingAndGlyphs">^</text>
<text x="56.53" y="133.8" textLength="4.5" lengthAdjust="spacingAndGlyphs">{</text>
<text x="65.18" y="133.8" textLength="9.0" lengthAdjust="spacingAndGlyphs">−</text>
<text x="74.10" y="133.8" textLength="7.2" lengthAdjust="spacingAndGlyphs">5</text>
<text x="81.50" y="133.8" textLength="4.5" lengthAdjust="spacingAndGlyphs">}</text>
<text x="31.55" y="325.0" textLength="7.1" lengthAdjust="spacingAndGlyphs">e</text>
<text x="40.35" y="325.0" textLength="8.2" lengthAdjust="spacingAndGlyphs">^</text>
<text x="49.15" y="325.0" textLength="4.5" lengthAdjust="spacingAndGlyphs">{</text>
<text x="57.80" y="325.0" textLength="9.0" lengthAdjust="spacingAndGlyphs">−</text>
<text x="70.70" y="325.0" textLength="14.5" lengthAdjust="spacingAndGlyphs">10</text>
<text x="81.50" y="325.0" textLength="4.5" lengthAdjust="spacingAndGlyphs">}</text>
</g>
<!-- guides -->
<text x="340.5" y="391.8" font-size="16.3" text-anchor="middle" textLength="39" lengthAdjust="spacingAndGlyphs">Time</text>
<text transform="translate(15.8,193.1) rotate(-90)" font-size="16.3" text-anchor="middle" textLength="82.4" lengthAdjust="spacingAndGlyphs">Difference</text>
<!-- title -->
<g font-size="20.8" fill="#000">
<text x="132.5" y="18" textLength="90.6" lengthAdjust="spacingAndGlyphs">Absolute</text>
<text x="229.7" y="18" textLength="108.4" lengthAdjust="spacingAndGlyphs">Difference</text>
<text x="344.8" y="18" textLength="17.2" lengthAdjust="spacingAndGlyphs">in</text>
<text x="369.8" y="18" textLength="65.2" lengthAdjust="spacingAndGlyphs">States</text>
<text x="441.7" y="18" textLength="49.6" lengthAdjust="spacingAndGlyphs">Over</text>
<text x="497.8" y="18" textLength="50.8" lengthAdjust="spacingAndGlyphs">Time</text>
</g>
<!-- legend -->
<rect x="109.4" y="41.6" width="193.8" height="38.6" fill="#fff" stroke="#000" stroke-width="1"/>
<line x1="114" y1="54.6" x2="148.7" y2="54.6" stroke="#0000ff" stroke-width="1.5"/>
<line x1="114" y1="67.5" x2="148.7" y2="67.5" stroke="#ff0000" stroke-width="2" stroke-dasharray="17.4 8.6"/>
<g font-size="11.9" fill="#000">
<text x="152.4" y="58.7" textLength="139" lengthAdjust="spacingAndGlyphs">ln(difference in mode1)</text>
<text x="152.4" y="72.2" textLength="78.6" lengthAdjust="spacingAndGlyphs">exp(0.0004*t</text>
<text x="240" y="72.2" text-anchor="middle" textLength="8.8" lengthAdjust="spacingAndGlyphs">+</text>
<text x="298.7" y="72.2" text-anchor="end" textLength="49.6" lengthAdjust="spacingAndGlyphs">-5.1645)</text>
</g>
</svg>
</body></html>
